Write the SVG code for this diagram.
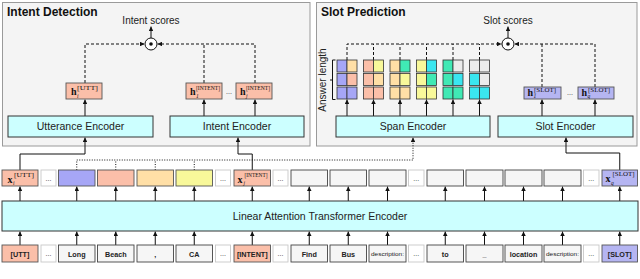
<svg xmlns="http://www.w3.org/2000/svg" width="640" height="279" viewBox="0 0 640 279">
<style>
.panel{fill:#f4f4f4;stroke:#9a9a9a;stroke-width:1}
.title{font-family:"Liberation Sans",Arial,sans-serif;font-weight:bold;font-size:12px;fill:#111}
.lbl{font-family:"Liberation Sans",Arial,sans-serif;font-size:10px;fill:#222}
.enc{fill:#ccffff;stroke:#333;stroke-width:1}
.enct{font-family:"Liberation Sans",Arial,sans-serif;font-size:10.5px;fill:#222;text-anchor:middle}
.tok{fill:#f6f6f6;stroke:#444;stroke-width:0.9}
.dots{fill:#ffffff;stroke:#c8c8c8;stroke-width:0.9}
.tt{font-family:"Liberation Sans",Arial,sans-serif;font-weight:bold;font-size:7.2px;fill:#222;text-anchor:middle}
.td{font-family:"Liberation Sans",Arial,sans-serif;font-size:6px;fill:#222;text-anchor:middle}
.dt{font-family:"Liberation Sans",Arial,sans-serif;font-size:7px;fill:#333;text-anchor:middle}
.sal{fill:#fbbfa9}
.pur{fill:#a6a6f6}
.lav{fill:#b5b5f2}
.pea{fill:#ffdfa6}
.yel{fill:#f8f89a}
.grn{fill:#40e9b5}
.cyn{fill:#3ae6f0}
.gry{fill:#ececec}
.bx{stroke:#555;stroke-width:0.9}
.cell{stroke:#333;stroke-width:0.8}
.hb{font-family:"Liberation Serif","Times New Roman",serif;font-weight:bold;font-size:10px;fill:#111}
.sup{font-family:"Liberation Serif","Times New Roman",serif;font-size:6px;fill:#111}
.sub{font-family:"Liberation Serif","Times New Roman",serif;font-style:italic;font-size:5.5px;fill:#111}
.ln{fill:none;stroke:#111;stroke-width:1}
.dash{fill:none;stroke:#111;stroke-width:1;stroke-dasharray:3,2}
.dot{fill:none;stroke:#111;stroke-width:1;stroke-dasharray:1,1.5}
</style>
<defs>
<marker id="ah" viewBox="0 0 6 6" refX="6" refY="3" markerWidth="4.5" markerHeight="4.5" markerUnits="userSpaceOnUse" orient="auto">
<path d="M0,0 L6,3 L0,6 z" fill="#111" stroke="none"/>
</marker>
</defs>

<g id="intent-panel">
<rect class="panel" x="2.5" y="2.5" width="307.5" height="143.5"/>
<text class="title" x="7" y="15.5">Intent Detection</text>
<text class="lbl" x="151" y="24" text-anchor="middle">Intent scores</text>
</g>
<g id="slot-panel">
<rect class="panel" x="316.5" y="2.5" width="320.5" height="143.5"/>
<text class="title" x="321" y="15.5">Slot Prediction</text>
<text class="lbl" x="508" y="24" text-anchor="middle">Slot scores</text>
</g>

<g id="connectors">
<line class="ln" x1="151" y1="38" x2="151" y2="26.5" marker-end="url(#ah)"/>
<path class="dash" d="M85,83 V44 H144.5" marker-end="url(#ah)"/>
<path class="dash" d="M255,83 V44 H157.5" marker-end="url(#ah)"/>
<path class="dash" d="M204,83 V44"/>
<line class="ln" x1="85" y1="116" x2="85" y2="99.5" marker-end="url(#ah)"/>
<line class="ln" x1="204" y1="116" x2="204" y2="99.5" marker-end="url(#ah)"/>
<line class="ln" x1="255" y1="116" x2="255" y2="99.5" marker-end="url(#ah)"/>
<path class="ln" d="M20,170 V154 H85 V137.5" marker-end="url(#ah)"/>
<path class="ln" d="M252.25,170 V154 H238 V137.5" marker-end="url(#ah)"/>
<line class="ln" x1="508" y1="38" x2="508" y2="26.5" marker-end="url(#ah)"/>
<path class="dash" d="M347,60 V44 H501.5" marker-end="url(#ah)"/>
<path class="dash" d="M373.5,60 V44 M400,60 V44 M426.5,60 V44 M453,60 V44 M479.5,60 V44"/>
<path class="dash" d="M595,87 V44 H514.5" marker-end="url(#ah)"/>
<path class="dash" d="M542,87 V44"/>
<line class="ln" x1="347" y1="116" x2="347" y2="99.5" marker-end="url(#ah)"/>
<line class="ln" x1="373.5" y1="116" x2="373.5" y2="99.5" marker-end="url(#ah)"/>
<line class="ln" x1="400" y1="116" x2="400" y2="99.5" marker-end="url(#ah)"/>
<line class="ln" x1="426.5" y1="116" x2="426.5" y2="99.5" marker-end="url(#ah)"/>
<line class="ln" x1="453" y1="116" x2="453" y2="99.5" marker-end="url(#ah)"/>
<line class="ln" x1="479.5" y1="116" x2="479.5" y2="99.5" marker-end="url(#ah)"/>
<line class="ln" x1="542" y1="116" x2="542" y2="99.5" marker-end="url(#ah)"/>
<line class="ln" x1="595" y1="116" x2="595" y2="99.5" marker-end="url(#ah)"/>
<path class="dot" d="M76.75,170 V160 H413 V137.5" marker-end="url(#ah)"/>
<path class="dot" d="M115.75,170 V160 M155.25,170 V160 M194.25,170 V160"/>
<path class="ln" d="M619.75,170 V153 H566 V137.5" marker-end="url(#ah)"/>
<g marker-end="url(#ah)">
<line class="ln" x1="20" y1="201" x2="20" y2="186.5"/>
<line class="ln" x1="76.75" y1="201" x2="76.75" y2="186.5"/>
<line class="ln" x1="115.75" y1="201" x2="115.75" y2="186.5"/>
<line class="ln" x1="155.25" y1="201" x2="155.25" y2="186.5"/>
<line class="ln" x1="194.25" y1="201" x2="194.25" y2="186.5"/>
<line class="ln" x1="252.25" y1="201" x2="252.25" y2="186.5"/>
<line class="ln" x1="309.25" y1="201" x2="309.25" y2="186.5"/>
<line class="ln" x1="348.25" y1="201" x2="348.25" y2="186.5"/>
<line class="ln" x1="387.5" y1="201" x2="387.5" y2="186.5"/>
<line class="ln" x1="445.25" y1="201" x2="445.25" y2="186.5"/>
<line class="ln" x1="484.5" y1="201" x2="484.5" y2="186.5"/>
<line class="ln" x1="523.5" y1="201" x2="523.5" y2="186.5"/>
<line class="ln" x1="562.5" y1="201" x2="562.5" y2="186.5"/>
<line class="ln" x1="619.75" y1="201" x2="619.75" y2="186.5"/>
<line class="ln" x1="20" y1="245" x2="20" y2="231.5"/>
<line class="ln" x1="76.75" y1="245" x2="76.75" y2="231.5"/>
<line class="ln" x1="115.75" y1="245" x2="115.75" y2="231.5"/>
<line class="ln" x1="155.25" y1="245" x2="155.25" y2="231.5"/>
<line class="ln" x1="194.25" y1="245" x2="194.25" y2="231.5"/>
<line class="ln" x1="252.25" y1="245" x2="252.25" y2="231.5"/>
<line class="ln" x1="309.25" y1="245" x2="309.25" y2="231.5"/>
<line class="ln" x1="348.25" y1="245" x2="348.25" y2="231.5"/>
<line class="ln" x1="387.5" y1="245" x2="387.5" y2="231.5"/>
<line class="ln" x1="445.25" y1="245" x2="445.25" y2="231.5"/>
<line class="ln" x1="484.5" y1="245" x2="484.5" y2="231.5"/>
<line class="ln" x1="523.5" y1="245" x2="523.5" y2="231.5"/>
<line class="ln" x1="562.5" y1="245" x2="562.5" y2="231.5"/>
<line class="ln" x1="619.75" y1="245" x2="619.75" y2="231.5"/>
</g>
</g>

<g id="intent-dot">
<circle cx="151" cy="44" r="6" fill="#fff" stroke="#111" stroke-width="1"/>
<circle cx="151" cy="44" r="1.8" fill="#111"/>
</g>
<g id="slot-dot">
<circle cx="508" cy="44" r="6" fill="#fff" stroke="#111" stroke-width="1"/>
<circle cx="508" cy="44" r="1.8" fill="#111"/>
</g>

<g id="h-utt">
<rect class="sal bx" x="66" y="83" width="36" height="16"/>
<text class="hb" x="71" y="95">h</text>
<text class="sup" x="77" y="89.5" textLength="21" lengthAdjust="spacingAndGlyphs">[UTT]</text>
<text class="sub" x="77" y="97.5">i</text>
</g>
<g id="h-intent-1">
<rect class="sal bx" x="186" y="83" width="36" height="16"/>
<text class="hb" x="190" y="95">h</text>
<text class="sup" x="196" y="89.5" textLength="24" lengthAdjust="spacingAndGlyphs">[INTENT]</text>
<text class="sub" x="196" y="97.5" font-style="normal">1</text>
</g>
<text class="dt" x="229" y="94">...</text>
<g id="h-intent-j">
<rect class="sal bx" x="236" y="83" width="36" height="16"/>
<text class="hb" x="240" y="95">h</text>
<text class="sup" x="246" y="89.5" textLength="24" lengthAdjust="spacingAndGlyphs">[INTENT]</text>
<text class="sub" x="246" y="97.5">j</text>
</g>

<g id="utterance-encoder">
<rect class="enc" x="8" y="116" width="145" height="21"/>
<text class="enct" x="80.5" y="130">Utterance Encoder</text>
</g>
<g id="intent-encoder">
<rect class="enc" x="170" y="116" width="134" height="21"/>
<text class="enct" x="237" y="130">Intent Encoder</text>
</g>
<g id="span-encoder">
<rect class="enc" x="336" y="116" width="154" height="21"/>
<text class="enct" x="413" y="130">Span Encoder</text>
</g>
<g id="slot-encoder">
<rect class="enc" x="498" y="116" width="135" height="21"/>
<text class="enct" x="565.5" y="130">Slot Encoder</text>
</g>

<g id="answer-length">
<text class="lbl" font-size="8.2" fill="#333" transform="translate(326,80) rotate(-90)" text-anchor="middle">Answer length</text>
<path class="ln" stroke="#555" stroke-width="0.8" d="M335.5,60 H332.5 V99.5 H335.5 M332.5,80 H330"/>
</g>
<g id="span-grid">
<rect class="cell pur" x="337" y="60" width="10" height="12"/><rect class="cell pea" x="347" y="60" width="10" height="12"/>
<rect class="cell pur" x="337" y="73.5" width="10" height="12"/><rect class="cell sal" x="347" y="73.5" width="10" height="12"/>
<rect class="cell pur" x="337" y="87" width="10" height="12"/><rect class="cell pur" x="347" y="87" width="10" height="12"/>
<rect class="cell sal" x="363.5" y="60" width="10" height="12"/><rect class="cell yel" x="373.5" y="60" width="10" height="12"/>
<rect class="cell sal" x="363.5" y="73.5" width="10" height="12"/><rect class="cell pea" x="373.5" y="73.5" width="10" height="12"/>
<rect class="cell sal" x="363.5" y="87" width="10" height="12"/><rect class="cell sal" x="373.5" y="87" width="10" height="12"/>
<rect class="cell pea" x="390" y="60" width="10" height="12"/><rect class="cell grn" x="400" y="60" width="10" height="12"/>
<rect class="cell pea" x="390" y="73.5" width="10" height="12"/><rect class="cell yel" x="400" y="73.5" width="10" height="12"/>
<rect class="cell pea" x="390" y="87" width="10" height="12"/><rect class="cell pea" x="400" y="87" width="10" height="12"/>
<rect class="cell yel" x="416.5" y="60" width="10" height="12"/><rect class="cell cyn" x="426.5" y="60" width="10" height="12"/>
<rect class="cell yel" x="416.5" y="73.5" width="10" height="12"/><rect class="cell grn" x="426.5" y="73.5" width="10" height="12"/>
<rect class="cell yel" x="416.5" y="87" width="10" height="12"/><rect class="cell yel" x="426.5" y="87" width="10" height="12"/>
<rect class="cell grn" x="443" y="60" width="10" height="12"/><rect class="cell gry" x="453" y="60" width="10" height="12"/>
<rect class="cell grn" x="443" y="73.5" width="10" height="12"/><rect class="cell cyn" x="453" y="73.5" width="10" height="12"/>
<rect class="cell grn" x="443" y="87" width="10" height="12"/><rect class="cell grn" x="453" y="87" width="10" height="12"/>
<rect class="cell gry" x="469.5" y="60" width="10" height="12"/><rect class="cell gry" x="479.5" y="60" width="10" height="12"/>
<rect class="cell cyn" x="469.5" y="73.5" width="10" height="12"/><rect class="cell gry" x="479.5" y="73.5" width="10" height="12"/>
<rect class="cell cyn" x="469.5" y="87" width="10" height="12"/><rect class="cell cyn" x="479.5" y="87" width="10" height="12"/>
</g>

<g id="h-slot-1">
<rect class="lav bx" x="524" y="87" width="37" height="12"/>
<text class="hb" x="527.5" y="96">h</text>
<text class="sup" x="534" y="91.5" textLength="22" lengthAdjust="spacingAndGlyphs">[SLOT]</text>
<text class="sub" x="533.5" y="98" font-style="normal">1</text>
</g>
<text class="dt" x="570" y="95">...</text>
<g id="h-slot-q">
<rect class="lav bx" x="578" y="87" width="36" height="12"/>
<text class="hb" x="581.5" y="96">h</text>
<text class="sup" x="588" y="91.5" textLength="22" lengthAdjust="spacingAndGlyphs">[SLOT]</text>
<text class="sub" x="587.5" y="98">q</text>
</g>

<g id="emb-row">
<g id="x-utt"><rect class="sal bx" x="2" y="170" width="36" height="16"/>
<text class="hb" x="7.5" y="183">x</text>
<text class="sup" x="14" y="176.5" textLength="20" lengthAdjust="spacingAndGlyphs">[UTT]</text>
<text class="sub" x="13" y="185">i</text></g>
<rect class="dots" x="41" y="170" width="15" height="16"/><text class="dt" x="48.5" y="180.5">...</text>
<rect class="pur bx" x="58.5" y="170" width="36.5" height="16"/>
<rect class="sal bx" x="97.5" y="170" width="36.5" height="16"/>
<rect class="pea bx" x="137" y="170" width="36.5" height="16"/>
<rect class="yel bx" x="176" y="170" width="36.5" height="16"/>
<rect class="dots" x="215.5" y="170" width="15" height="16"/><text class="dt" x="223" y="180.5">...</text>
<g id="x-intent"><rect class="sal bx" x="234" y="170" width="36.5" height="16"/>
<text class="hb" x="237.5" y="183">x</text>
<text class="sup" x="244.5" y="176.5" textLength="23" lengthAdjust="spacingAndGlyphs">[INTENT]</text>
<text class="sub" x="243.5" y="185">j</text></g>
<rect class="dots" x="273" y="170" width="15" height="16"/><text class="dt" x="280.5" y="180.5">...</text>
<rect class="tok" x="291" y="170" width="36.5" height="16"/>
<rect class="tok" x="330" y="170" width="36.5" height="16"/>
<rect class="tok" x="369" y="170" width="37" height="16"/>
<rect class="dots" x="408.5" y="170" width="15.5" height="16"/><text class="dt" x="416.25" y="180.5">...</text>
<rect class="tok" x="427" y="170" width="36.5" height="16"/>
<rect class="tok" x="466" y="170" width="37" height="16"/>
<rect class="tok" x="505" y="170" width="37" height="16"/>
<rect class="tok" x="544" y="170" width="37" height="16"/>
<rect class="dots" x="583.5" y="170" width="15.5" height="16"/><text class="dt" x="591.25" y="180.5">...</text>
<g id="x-slot"><rect class="lav bx" x="602" y="170" width="35.5" height="16"/>
<text class="hb" x="605.5" y="182">x</text>
<text class="sup" x="612.5" y="176" textLength="22" lengthAdjust="spacingAndGlyphs">[SLOT]</text>
<text class="sub" x="611" y="185">q</text></g>
</g>

<g id="late">
<rect class="enc" x="2" y="201" width="636" height="30"/>
<text class="enct" x="320" y="220" font-size="12">Linear Attention Transformer Encoder</text>
</g>

<g id="tokens">
<rect class="sal bx" x="2" y="245" width="36" height="17"/><text class="tt" x="20" y="256.5">[UTT]</text>
<rect class="dots" x="41" y="245" width="15" height="17"/><text class="dt" x="48.5" y="256">...</text>
<rect class="tok" x="58.5" y="245" width="36.5" height="17"/><text class="tt" x="76.75" y="256.5">Long</text>
<rect class="tok" x="97.5" y="245" width="36.5" height="17"/><text class="tt" x="115.75" y="256.5">Beach</text>
<rect class="tok" x="137" y="245" width="36.5" height="17"/><text class="tt" x="155.25" y="256.5">,</text>
<rect class="tok" x="176" y="245" width="36.5" height="17"/><text class="tt" x="194.25" y="256.5">CA</text>
<rect class="dots" x="215.5" y="245" width="15" height="17"/><text class="dt" x="223" y="256">...</text>
<rect class="sal bx" x="234" y="245" width="36.5" height="17"/><text class="tt" x="252.25" y="256.5">[INTENT]</text>
<rect class="dots" x="273" y="245" width="15" height="17"/><text class="dt" x="280.5" y="256">...</text>
<rect class="tok" x="291" y="245" width="36.5" height="17"/><text class="tt" x="309.25" y="256.5">Find</text>
<rect class="tok" x="330" y="245" width="36.5" height="17"/><text class="tt" x="348.25" y="256.5">Bus</text>
<rect class="tok" x="369" y="245" width="37" height="17"/><text class="td" x="387.5" y="256" textLength="33" lengthAdjust="spacingAndGlyphs">description:</text>
<rect class="dots" x="408.5" y="245" width="15.5" height="17"/><text class="dt" x="416.25" y="256">...</text>
<rect class="tok" x="427" y="245" width="36.5" height="17"/><text class="tt" x="445.25" y="256.5">to</text>
<rect class="tok" x="466" y="245" width="37" height="17"/><text class="tt" x="484.5" y="256.5">_</text>
<rect class="tok" x="505" y="245" width="37" height="17"/><text class="tt" x="523.5" y="256.5">location</text>
<rect class="tok" x="544" y="245" width="37" height="17"/><text class="td" x="562.5" y="256" textLength="33" lengthAdjust="spacingAndGlyphs">description:</text>
<rect class="dots" x="583.5" y="245" width="15.5" height="17"/><text class="dt" x="591.25" y="256">...</text>
<rect class="lav bx" x="602" y="245" width="35.5" height="17"/><text class="tt" x="619.75" y="256.5">[SLOT]</text>
</g>
</svg>
